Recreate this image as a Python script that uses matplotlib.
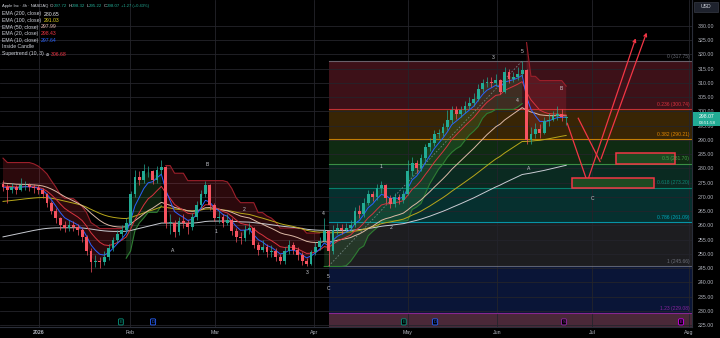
import matplotlib
matplotlib.use("Agg")
import matplotlib.pyplot as plt
import numpy as np
from matplotlib.patches import Rectangle

plt.rcParams['font.family'] = ['Liberation Sans', 'DejaVu Sans']

# one candle per slot (roughly two 4h bars each)
closes = [273.5, 272.5, 273.5, 272.5, 274, 274, 273.5, 273, 272.5, 271,
          268, 265, 262.5, 260, 259, 260, 259.5, 258.5, 256, 251,
          247, 247.5, 247, 249, 252, 255, 257, 258.5, 261, 271,
          277, 276, 279, 279, 276, 279.5, 280.5, 261, 261, 257.5,
          261.5, 261, 259.5, 263, 267, 271, 274, 267, 262.5, 263,
          261, 262, 258, 256, 255.5, 258.5, 259, 253, 251.5, 252.5,
          250.5, 251, 249, 247.5, 251, 253, 251.5, 249.5, 247.5, 246.5,
          250.5, 252.5, 254.5, 258, 251, 258.5, 259, 258.5, 259, 260,
          265, 264, 268, 271, 270, 273, 274, 269.5, 267.5, 270,
          269, 271, 279, 282, 280, 283.5, 287.5, 289, 292, 292.5,
          294.5, 297, 300.5, 299, 300.5, 302, 303, 304.5, 308, 310,
          310.5, 310, 311, 307, 314, 311.5, 312, 313, 314.5, 290,
          292, 294, 292.5, 296.5, 297, 298.5, 299, 298, 298.07]
highs = [276, 274.5, 275, 274, 276.5, 275.5, 275, 274.5, 274, 273,
         271.5, 268.5, 266, 263, 261.5, 262, 261.5, 260.5, 259, 256.5,
         252, 249.5, 249, 251, 253.5, 256, 258.5, 260, 262.5, 272,
         279.5, 279, 281.5, 281, 279.5, 281, 283, 281, 264, 262,
         263, 264, 262, 264.5, 268.5, 272.5, 275.5, 274.5, 268, 265,
         264, 264, 262.5, 259, 257.5, 260, 261, 259.5, 254, 255,
         253.5, 253, 252, 250, 252.5, 255, 254, 252.5, 250.5, 248.5,
         251.5, 254, 256, 262.6, 258.5, 260, 261, 260.5, 261, 262,
         266.5, 267, 269.5, 272.5, 272, 274.5, 275.5, 274.5, 270.5, 271.5,
         271, 272.5, 283, 284, 283, 285, 288.5, 290.5, 293.5, 294,
         296, 300.5, 302, 302, 302, 303.5, 305, 306.5, 309.5, 311.5,
         312, 312, 313, 311.5, 315.6, 315, 314, 315.5, 317.75, 315,
         294.5, 296, 295.5, 298, 299.5, 300, 302, 301, 298.32]
lows = [272, 268, 271.5, 271, 272, 272.5, 272, 271.5, 271, 269.5,
        266.5, 264, 261, 258.5, 257.5, 258, 258, 256.5, 254, 249.5,
        243.6, 245.5, 245, 246, 248, 251, 254, 256, 257.5, 260,
        270, 274, 275, 277, 274.5, 275, 278, 259, 257, 256,
        256.5, 259, 257, 258.5, 262, 266, 270, 265.5, 261.5, 261,
        259.5, 260, 256.5, 254, 253.5, 254.5, 257, 252, 249.5, 250.5,
        249, 249, 247.5, 246.5, 246.5, 250, 250, 248, 246, 245.8,
        246, 249.5, 251.5, 254, 245.66, 250, 257, 257, 257.5, 258,
        259.5, 262.5, 263, 267, 268.5, 269, 271.5, 268, 266, 266.5,
        267.5, 268, 270.5, 277.5, 278.5, 279, 282.5, 286, 288, 290.5,
        291.5, 293.5, 296, 297.5, 298, 299.5, 301, 302, 303.5, 307,
        308.5, 308.5, 309, 306, 306.5, 310, 310.5, 311, 312, 288.5,
        288.5, 290.5, 290.5, 292, 295, 296.5, 297, 296.5, 295.22]
first_open = 274.5
last_open = 297.72

# EMA seeds at the left edge (slot EMA spans are half the 4h lengths)
ema_specs = [(200, 255.6, '#c9ccd3'), (100, 268.2, '#b8a81a'),
             (50, 275.0, '#dcb9a6'), (20, 274.0, '#d8333f'), (10, 273.5, '#2962ff')]

fib_low, fib_high = 245.66, 317.75
fib_start, fib_end = 74, 118
fib_ratios = [0, 0.236, 0.382, 0.5, 0.618, 0.786, 1, 1.23, 1.618]
fib_line_cols = ['#787b86', '#f23645', '#ff9800', '#4caf50', '#089981', '#00bcd4', '#787b86', '#9c27b0', '#2962ff']
fib_band_cols = ['#3d1118', '#382505', '#0f2b12', '#0a2a21', '#06302f', '#1d1d20', '#0a1537', '#4a2838']

month_labels = ["2026", "Feb", "Mar", "Apr", "May", "Jun", "Jul", "Aug"]
month_pos = [8.2, 28.9, 48.2, 70.8, 92.0, 112.3, 133.9, 155.9]

wave_labels = [(46.4, 281.5, "B"), (54.8, 265.4, "2"), (48.4, 258.0, "1"), (38.6, 251.0, "A"),
               (72.7, 264.3, "4"), (69.1, 243.3, "3"), (73.9, 242.2, "5"), (73.9, 237.7, "C"),
               (85.9, 280.5, "1"), (88.2, 259.4, "2"), (111.4, 319.1, "3"), (118.0, 321.2, "5"),
               (117.0, 303.7, "4"), (126.8, 307.9, "B"), (119.5, 280.1, "A"), (133.9, 269.6, "C")]

proj_a_x = [128.25, 132.8, 144.0]
proj_a_y = [295.8, 275.3, 326.6]
proj_b_x = [130.75, 135.7, 146.5]
proj_b_y = [297.6, 282.4, 328.6]

zones = [(139.3, 152.7, 281.5, 285.3), (129.3, 148.0, 273.2, 276.5)]

events = [(26.8, "E", '#089981'), (91.1, "E", '#089981'), (34.1, "D", '#2962ff'),
          (98.2, "D", '#2962ff'), (127.5, "S", '#9c27b0'), (154.1, "E", '#d500f9')]


def ema(vals, span, seed):
    a = 2.0 / (span + 1)
    out, e = [], seed
    for v in vals:
        e = e + a * (v - e)
        out.append(e)
    return np.array(out)


def supertrend(h, l, c, period, mult):
    n = len(c)
    tr = np.empty(n)
    tr[0] = h[0] - l[0]
    for k in range(1, n):
        tr[k] = max(h[k] - l[k], abs(h[k] - c[k - 1]), abs(l[k] - c[k - 1]))
    atr = np.empty(n)
    atr[0] = tr[0]
    for k in range(1, n):
        atr[k] = (atr[k - 1] * (period - 1) + tr[k]) / period
    hl2 = (h + l) / 2
    up_b = hl2 - mult * atr
    dn_b = hl2 + mult * atr
    st = np.empty(n)
    d = np.empty(n, dtype=int)
    fu, fl, trend = dn_b[0], up_b[0], -1
    st[0], d[0] = fu, trend
    for k in range(1, n):
        nfu = dn_b[k] if (dn_b[k] < fu or c[k - 1] > fu) else fu
        nfl = up_b[k] if (up_b[k] > fl or c[k - 1] < fl) else fl
        if trend == -1 and c[k] > nfu:
            trend = 1
        elif trend == 1 and c[k] < nfl:
            trend = -1
        fu, fl = nfu, nfl
        st[k] = fl if trend == 1 else fu
        d[k] = trend
    return st, d


c = np.array(closes)
h = np.array(highs)
l = np.array(lows)
o = np.array([first_open] + closes[:-1])
o[-1] = last_open
idx = np.arange(len(c))

fig = plt.figure(figsize=(7.2, 3.38), dpi=100, facecolor='#000000')
ax = fig.add_axes([0, 11 / 338, 692 / 720, 327 / 338])
ax.set_facecolor('#000000')
ax.set_xlim(-0.68, 156.6)
ax.set_ylim(224.31, 339.13)

# fib bands and levels
levels = [fib_high - r * (fib_high - fib_low) for r in fib_ratios]
for k in range(len(fib_band_cols)):
    ax.fill_between([fib_start, 170], levels[k + 1], levels[k], color=fib_band_cols[k], lw=0, zorder=0)
for k, r in enumerate(fib_ratios[:-1]):
    ax.plot([fib_start, 170], [levels[k]] * 2, color=fib_line_cols[k], lw=0.8, alpha=0.75, zorder=1)
    ax.text(156.0, levels[k] + 0.8, f"{r:g} ({levels[k]:.2f})", color=fib_line_cols[k],
            fontsize=3.6, ha='right', va='bottom', alpha=0.85, zorder=7)
ax.plot([fib_start, fib_end], [fib_low, fib_high], color='#787b86', lw=0.6, ls=(0, (2, 2)), zorder=1)

# supertrend
st, sd = supertrend(h, l, c, 5, 2.4)
mid = (o + c) / 2
for sign, col, fcol in [(-1, '#9b1f2a', '#f23645'), (1, '#2e7d32', '#4caf50')]:
    mask = sd == sign
    ax.fill_between(idx, st, mid, where=mask, color=fcol, alpha=0.18, lw=0, zorder=2)
    ax.plot(idx, np.where(mask, st, np.nan), color=col, lw=0.8, zorder=2)

# EMAs
for span, seed, col in ema_specs:
    ax.plot(idx, ema(closes, span / 2, seed), color=col, lw=0.7, zorder=3)

# candles
up = c >= o
cols = np.where(up, '#22ab94', '#f7525f')
ax.vlines(idx, l, h, colors=cols, lw=0.5, zorder=4)
ax.bar(idx, np.maximum(np.abs(c - o), 0.15), bottom=np.minimum(o, c), width=0.62,
       color=cols, lw=0, zorder=4)

for x, y, t in wave_labels:
    ax.text(x, y, t, color='#c8cad0', fontsize=3.6, ha='center', va='center', zorder=5)

# projection paths and target zones
for xs, ys in [(proj_a_x, proj_a_y), (proj_b_x, proj_b_y)]:
    ax.plot(xs[:2], ys[:2], color='#f23645', lw=0.9, zorder=6)
    ax.annotate("", xy=(xs[2], ys[2]), xytext=(xs[1], ys[1]),
                arrowprops=dict(arrowstyle='->', color='#f23645', lw=0.9, mutation_scale=5), zorder=6)
for x0, x1, y0, y1 in zones:
    ax.add_patch(Rectangle((x0, y0), x1 - x0, y1 - y0, facecolor='#1d4a22', edgecolor='#f23645',
                           lw=1.1, zorder=6))

for x, t, col in events:
    ax.text(x, 226.1, t, color=col, fontsize=3.0, ha='center', va='center', zorder=6,
            bbox=dict(boxstyle='round,pad=0.25', fc='#000000', ec=col, lw=0.6))

# axes styling
ax.set_yticks(np.arange(225, 331, 5))
ax.set_yticklabels([f"{v:.2f}" for v in np.arange(225, 331, 5)])
ax.yaxis.tick_right()
ax.set_xticks(month_pos)
ax.set_xticklabels(month_labels)
ax.tick_params(axis='both', length=0, colors='#b2b5be', labelsize=3.8, pad=2.5)
ax.tick_params(axis='y', pad=4)
ax.get_xticklabels()[0].set_fontweight('bold')
ax.set_axisbelow(True)
ax.grid(True, color='#24242b', lw=0.6)
for s in ['top', 'left']:
    ax.spines[s].set_visible(False)
for s in ['right', 'bottom']:
    ax.spines[s].set_color('#2a2e39')
    ax.spines[s].set_linewidth(0.8)

renderer = fig.canvas.get_renderer()


def text_row(px, py, parts):
    # lay pieces out left to right, each after the previous one's extent
    x = px
    for s, col, gap, size in parts:
        t = fig.text(x / 720, 1 - py / 338, s, color=col, fontsize=size, va='center')
        x = t.get_window_extent(renderer).x1 + gap


# legend block
gray = '#d1d4dc'
green = '#22ab94'
row1 = [("Apple Inc · 4h · NASDAQ", gray, 1.8, 3.0)]
for letter, val in [("O", "297.72"), ("H", "298.32"), ("L", "295.22"), ("C", "298.07")]:
    row1 += [(letter, gray, 0.3, 3.2), (val, green, 1.2, 3.2)]
row1.append(("+1.27 (+0.43%)", green, 0, 3.0))
text_row(2, 6, row1)
legend_rows = [("EMA (200, close)", "280.65", '#e6e8ec', 14),
               ("EMA (100, close)", "291.03", '#e0d020', 20.5),
               ("EMA (50, close)", "297.99", '#e8b8b0', 27),
               ("EMA (20, close)", "298.43", '#f23645', 33.7),
               ("EMA (10, close)", "297.64", '#2962ff', 40.3)]
for name, val, col, py in legend_rows:
    text_row(2, py, [(name, gray, 2.2, 3.7), (val, col, 0, 3.7)])
text_row(2, 47, [("Inside Candle", gray, 0, 3.7)])
text_row(2, 54, [("Supertrend (10, 3)", gray, 2.2, 3.7), ("⌀", gray, 1.5, 3.7), ("306.68", '#f23645', 0, 3.7)])

# price axis extras
fig.patches.append(Rectangle((694 / 720, 1 - 12 / 338), 24 / 720, 10 / 338, transform=fig.transFigure,
                             facecolor='#1e222d', edgecolor='#363a45', lw=0.5))
fig.text(706 / 720, 1 - 7 / 338, "USD", color='#d1d4dc', fontsize=3.7, ha='center', va='center')
fig.patches.append(Rectangle((693 / 720, 1 - 126 / 338), 27 / 720, 13.5 / 338, transform=fig.transFigure,
                             facecolor='#22ab94', edgecolor='none'))
fig.text(707 / 720, 1 - 116 / 338, "298.07", color='#ffffff', fontsize=3.7, ha='center', va='center')
fig.text(707 / 720, 1 - 122.5 / 338, "03:51:58", color='#ffffff', fontsize=3.2, ha='center', va='center')

fig.savefig("out.png", dpi=100, facecolor='#000000')
